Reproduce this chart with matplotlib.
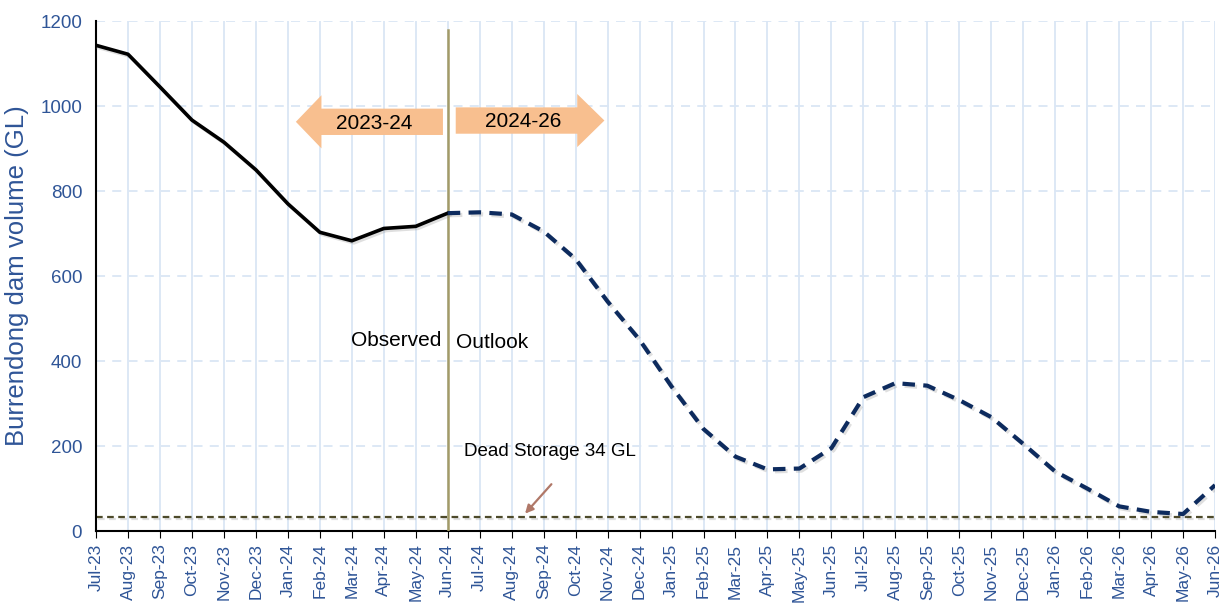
import matplotlib
matplotlib.use("Agg")
import matplotlib.pyplot as plt
import matplotlib.patheffects as pe
from matplotlib.patches import FancyArrow

plt.rcParams["font.family"] = ["Liberation Sans", "DejaVu Sans"]

months = ["Jul-23", "Aug-23", "Sep-23", "Oct-23", "Nov-23", "Dec-23", "Jan-24", "Feb-24",
          "Mar-24", "Apr-24", "May-24", "Jun-24", "Jul-24", "Aug-24", "Sep-24", "Oct-24",
          "Nov-24", "Dec-24", "Jan-25", "Feb-25", "Mar-25", "Apr-25", "May-25", "Jun-25",
          "Jul-25", "Aug-25", "Sep-25", "Oct-25", "Nov-25", "Dec-25", "Jan-26", "Feb-26",
          "Mar-26", "Apr-26", "May-26", "Jun-26"]
observed = [1143, 1122, 1045, 967, 915, 850, 770, 703, 683, 712, 717, 748]
outlook = [748, 750, 745, 705, 640, 540, 450, 340, 240, 175, 145, 147, 195,
           315, 348, 342, 308, 268, 205, 140, 100, 58, 45, 40, 108]
dead_storage = 34

fig = plt.figure(figsize=(12.25, 6.03), dpi=100)
ax = fig.add_axes([0.0784, 0.1194, 0.9135, 0.8456])

x = list(range(len(months)))
obs_x = x[:len(observed)]
out_x = x[len(observed) - 1:]

ax.set_xlim(0, len(months) - 1)
ax.set_ylim(0, 1200)

grid_c = "#dae6f5"
for xi in x:
    ax.axvline(xi, color=grid_c, lw=1.3, zorder=0)
for yv in range(200, 1201, 200):
    ax.axhline(yv, color=grid_c, lw=1.3, ls=(0, (5, 4)), zorder=0)

shadow = [pe.SimpleLineShadow(offset=(1.5, -1.5), alpha=0.25, shadow_color="gray"), pe.Normal()]
ax.axhline(dead_storage, color="#4d4a2a", lw=1.6, ls=(0, (3, 2)), zorder=2, path_effects=shadow)

ax.plot(obs_x, observed, color="black", lw=2.6, zorder=4, path_effects=shadow)
ax.plot(out_x, outlook, color="#0d2b5e", lw=3, ls=(0, (3, 2)), zorder=4, path_effects=shadow)

ax.plot([11, 11], [0, 1178], color="#a39b68", lw=1.8, zorder=3)

arrow_c = "#f8bf8f"
ax.add_patch(FancyArrow(10.85, 963, -4.6, 0, width=62, head_width=125, head_length=0.8,
                        length_includes_head=True, color=arrow_c, lw=0, zorder=5))
ax.add_patch(FancyArrow(11.25, 966, 4.65, 0, width=62, head_width=125, head_length=0.85,
                        length_includes_head=True, color=arrow_c, lw=0, zorder=5))
ax.text(8.70, 960, "2023-24", fontsize=15, ha="center", va="center", zorder=6)
ax.text(13.36, 963, "2024-26", fontsize=15, ha="center", va="center", zorder=6)

ax.text(10.8, 448, "Observed", fontsize=15, ha="right", va="center", zorder=6)
ax.text(11.25, 443, "Outlook", fontsize=15, ha="left", va="center", zorder=6)
ax.text(11.5, 188, "Dead Storage 34 GL", fontsize=13.5, ha="left", va="center", zorder=6)
ax.annotate("", xy=(13.36, 36), xytext=(14.3, 115),
            arrowprops=dict(arrowstyle="-|>", color="#b07868", lw=1.6, mutation_scale=12), zorder=6)

tick_c = "#2f5597"
ax.set_xticks(x)
ax.set_xticklabels(months, rotation=90, fontsize=12.5, color=tick_c)
ax.set_yticks(range(0, 1201, 200))
ax.set_yticklabels([str(v) for v in range(0, 1201, 200)], fontsize=13.5, color=tick_c)
ax.tick_params(axis="y", length=0, pad=10)
ax.tick_params(axis="x", length=5, direction="out", color="black", pad=4)
ax.set_ylabel("Burrendong dam volume (GL)", fontsize=18.5, color=tick_c, labelpad=8)

for s in ["top", "right"]:
    ax.spines[s].set_visible(False)
for s in ["left", "bottom"]:
    ax.spines[s].set_color("black")
    ax.spines[s].set_linewidth(1.5)

fig.savefig("out.png", dpi=100)
